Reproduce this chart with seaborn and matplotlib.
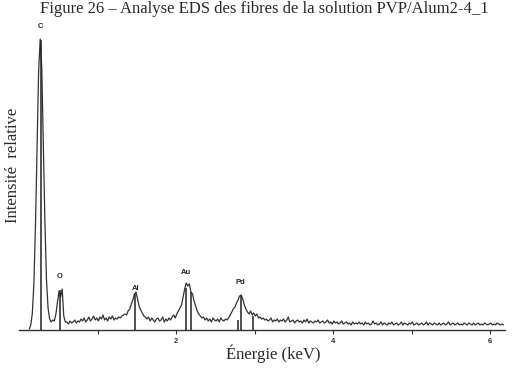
import numpy as np
import matplotlib
matplotlib.use("Agg")
import matplotlib.pyplot as plt
import seaborn as sns

# ---- data ----
# channel grid: first energy and step (keV)
e_start = 0.13
e_step = 0.02
counts = [
    # 0.13 - 0.39  (C)
    1, 5, 17, 47, 105, 184, 259, 291, 262, 186, 108, 50, 22, 11,
    # 0.41 - 0.59  (O)
    8, 10, 9, 16, 28, 39, 33, 41, 14, 8,
    # 0.61 - 1.33
    8, 6, 9, 7, 8, 10, 7, 9, 8, 11, 9, 12, 8, 10, 13, 9, 11, 14, 10, 12,
    9, 13, 11, 15, 10, 12, 9, 13, 11, 14, 10, 12, 11, 13, 12, 14, 15,
    # 1.35 - 1.61  (Al)
    16, 15, 19, 21, 26, 30, 36, 38, 31, 24, 20, 17, 14, 13,
    # 1.63 - 1.99
    11, 13, 9, 12, 10, 8, 11, 12, 9, 10, 13, 8, 11, 9, 12, 10, 13, 15, 12,
    # 2.01 - 2.35  (Au)
    16, 19, 22, 25, 33, 41, 47, 44, 46, 38, 36, 29, 24, 19, 16, 14, 12, 13,
    # 2.37 - 2.65
    10, 12, 9, 11, 8, 12, 10, 9, 11, 8, 12, 10, 9, 11, 10,
    # 2.67 - 3.13  (Pd)
    12, 15, 18, 21, 23, 27, 30, 34, 35, 31, 25, 21, 18, 16, 19, 15, 17, 14,
    16, 12, 13, 11, 12, 10,
    # 3.15 - 6.17
    11, 9, 10, 12, 8, 10, 9, 11, 8, 10,
    9, 11, 8, 10, 13, 8, 9, 10, 7, 9,
    10, 8, 9, 7, 10, 8, 11, 7, 9, 8,
    7, 9, 8, 10, 7, 8, 9, 7, 8, 10,
    7, 8, 6, 9, 7, 8, 6, 7, 9, 6,
    7, 8, 6, 7, 5, 8, 6, 7, 6, 8,
    6, 7, 5, 8, 6, 7, 5, 6, 9, 6,
    7, 5, 6, 8, 5, 7, 6, 5, 7, 6,
    8, 5, 6, 7, 5, 6, 8, 5, 7, 6,
    5, 7, 6, 8, 5, 6, 7, 5, 6, 7,
    5, 6, 8, 5, 7, 6, 5, 7, 6, 5,
    7, 5, 6, 7, 5, 6, 8, 5, 6, 7,
    5, 6, 7, 5, 6, 5, 7, 6, 5, 7,
    6, 5, 7, 5, 6, 7, 5, 6, 5, 7,
    6, 5, 6, 7, 5, 6, 5, 7, 6, 5,
    6, 5,
]
energy = np.round(e_start + e_step * np.arange(len(counts)), 2)

# element marker lines (keV, height)
marker_e = [0.277, 0.52, 1.478, 2.13, 2.19, 2.79, 2.83, 2.98]
marker_h = [290, 40, 36, 42, 38, 10, 34, 14]

# peak labels
peak_names = ["C", "O", "Al", "Au", "Pd"]
peak_e = [0.27, 0.52, 1.48, 2.13, 2.82]
peak_h = [303, 53, 42, 57, 47]

tick_major = [2, 4, 6]
tick_minor = [1, 3, 5]

# ---- figure ----
sns.set_style("white")
W, H = 523, 381
fig = plt.figure(figsize=(W / 100, H / 100), dpi=100)
ax = fig.add_axes([19 / W, (H - 330) / H, 486 / W, 300 / H])

sns.lineplot(x=energy, y=counts, ax=ax, color="#333333", linewidth=0.9,
             estimator=None, sort=False)
ax.vlines(marker_e, 0, marker_h, color="#222222", linewidth=1.1)

for name, e, h in zip(peak_names, peak_e, peak_h):
    ax.text(e, h, name, ha="center", va="center", fontsize=5.5,
            fontweight="bold", family="Liberation Sans", color="#222222",
            clip_on=False)

ax.set_xlim(0, 6.19)
ax.set_ylim(0, 300)
for s in ["top", "right", "left"]:
    ax.spines[s].set_visible(False)
ax.spines["bottom"].set_color("#333333")
ax.spines["bottom"].set_linewidth(1.0)
ax.set_yticks([])
ax.set_xticks(tick_major)
ax.set_xticklabels([str(t) for t in tick_major], fontsize=5.5, fontweight="bold",
                   family="Liberation Sans", color="#333333")
ax.set_xticks(tick_minor, minor=True)
ax.tick_params(axis="x", which="both", direction="out", length=3, width=0.8,
               color="#333333", pad=2.5, bottom=True)
ax.set_xlabel("")
ax.set_ylabel("")

fig.text(273 / W, 1 - 354 / H, "Énergie (keV)", ha="center", va="center",
         fontsize=12, family="Liberation Serif", color="#2a2a2a")
fig.text(13 / W, 1 - 165 / H, "Intensité  relative", ha="center", va="center",
         rotation=90, fontsize=12, family="Liberation Serif", color="#2a2a2a")
fig.text(40 / W, 1 - 13 / H,
         "Figure 26 – Analyse EDS des fibres de la solution PVP/Alum2-4_1",
         ha="left", va="baseline", fontsize=12, family="Liberation Serif",
         color="#2a2a2a")

fig.savefig("out.png", dpi=100)
